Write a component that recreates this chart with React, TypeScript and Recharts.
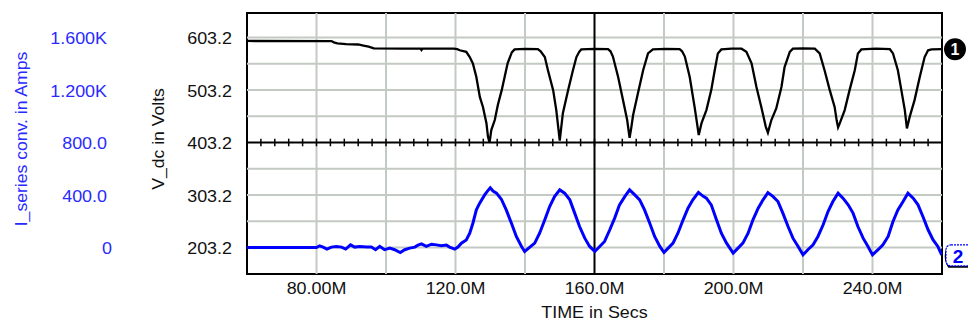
import React from 'react';
import { LineChart, Line, XAxis, YAxis, ReferenceLine, ReferenceArea, ReferenceDot } from 'recharts';

// V_dc trace (time in ms, volts)
const vTime = [
  60, 84.3, 85.0, 86.0, 88.5, 92.0, 93.5, 95.0, 96.5, 105, 110, 110.2, 110.5, 119.5,
  120.5, 121.2, 123.1, 124.1, 125.0, 126.0, 127.0, 127.9, 128.9, 129.35, 129.8,
  130.3, 131.3, 132.2, 133.3, 134.2, 135.0, 136.2, 137.0, 140, 143.7,
  144.5, 145.7, 146.6, 148.1, 149.0, 149.6, 150.0, 150.4, 150.9, 152.4, 153.8, 154.8, 155.6, 156.2, 160, 163.9,
  164.6, 165.3, 166.8, 168.2, 169.4, 170.1, 170.6, 171.1, 172.5, 174.0, 175.4, 176.8, 180.5, 184.5,
  185.2, 186.0, 187.4, 188.8, 189.5, 190.0, 190.8, 192.2, 193.6, 194.6, 195.5, 196.5, 199.5, 202.3,
  203.7, 205.2, 206.6, 208.0, 209.3, 209.9, 210.9, 212.3, 213.8, 214.7, 216.2, 217.1, 220, 223.4,
  224.8, 226.2, 227.7, 229.1, 229.7, 230.1, 230.6, 232.0, 233.4, 234.9, 235.8, 236.8, 241, 245.0,
  245.9, 247.3, 248.3, 249.3, 249.9, 250.7, 252.1, 253.6, 255.0, 256.0, 257.0, 260,
];
const vVolts = [
  596.7, 596.5, 594, 592, 590.5, 590, 588, 586, 582.5, 582, 582, 579.5, 582, 582,
  581, 579, 576, 566, 554, 528, 490, 471, 440, 414, 403,
  427, 446, 475, 503, 530, 554, 575, 580.5, 581.5, 581,
  577, 566, 541, 503, 465, 430, 407, 430, 459, 503, 541, 566, 576, 580.5, 581.5, 581,
  577, 567, 528, 484, 446, 412, 432, 455, 497, 541, 573, 580.5, 581.5, 581,
  577, 567, 528, 471, 440, 417.5, 440, 465, 503, 541, 573, 580.5, 582, 582,
  576, 554, 509, 471, 433, 422, 446, 468, 509, 547, 576, 582, 582.5, 582,
  573, 541, 503, 471, 445, 432, 440, 465, 503, 541, 573, 580.5, 582, 581,
  573, 541, 503, 465, 430, 452, 484, 528, 566, 579, 580.5, 581,
];

// I_series conv. trace (time in ms, amps)
const iTime = [
  60, 80.0, 80.9, 81.9, 83.0, 84.3, 85.7, 87.2, 88.4, 89.8, 91.0, 92.4, 94.4, 95.8, 97.0, 98.2,
  99.6, 101.1, 102.5, 104.1, 105.4, 106.8, 108.3, 109.2, 110.2, 111.6, 113.1, 114.5, 115.9, 117.4,
  118.3, 119.8, 120.7, 121.7, 123.1, 124.1, 125.0, 126.0, 127.0, 128.4, 129.2, 130.0, 130.8,
  131.8, 133.2, 134.6, 136.1, 137.5, 139.0, 139.9, 141.4, 142.8, 144.2, 145.7, 147.1, 148.5, 150.0,
  151.4, 152.9, 154.3, 155.7, 157.2, 158.6, 160.1, 161.5, 162.9, 164.4, 165.8, 167.2, 168.7, 170.1,
  171.6, 173.0, 174.4, 175.9, 177.3, 178.8, 180.0, 181.2, 182.6, 184.0, 185.5, 186.9, 188.3, 189.9,
  191.2, 192.2, 193.6, 195.1, 196.5, 198.0, 199.9, 201.3, 202.7, 204.2, 205.6, 207.1, 208.5, 209.9,
  211.4, 212.8, 214.2, 215.7, 217.1, 218.6, 220.0, 221.4, 222.9, 224.3, 225.8, 227.2, 228.6, 230.1,
  231.5, 233.0, 234.4, 235.8, 237.3, 238.7, 240.0, 241.6, 243.0, 244.5, 245.9, 247.3, 248.8, 250.2,
  251.7, 253.1, 254.5, 256.0, 257.4, 258.8, 259.9,
];
const iAmps = [
  0, 0, 13, 3, -12, 3, 8, 3, -12, 20, 3, 8, 3, 3, -17, 8,
  -17, -5, -17, -38, -17, -5, 3, 18, 28, 8, 25, 20, 13, 18,
  3, -12, 3, 33, 58, 109, 185, 287, 340, 401, 430, 455, 430,
  414, 368, 287, 185, 84, 8, -30, 3, 33, 109, 211, 312, 388, 439,
  414, 363, 262, 160, 71, 8, -30, 8, 46, 135, 224, 325, 388, 439,
  401, 363, 287, 185, 84, 8, -38, -5, 33, 109, 211, 300, 363, 420,
  392, 376, 325, 211, 109, 33, -43, -5, 33, 109, 211, 300, 363, 418,
  388, 350, 262, 160, 71, 8, -56, -17, 21, 84, 173, 274, 350, 414,
  376, 325, 262, 160, 71, 8, -56, -17, 21, 84, 198, 287, 350, 414,
  376, 325, 236, 135, 59, 8, -56,
];

const xTicks = [80, 120, 160, 200, 240];
const xTickLabels = ['80.00M', '120.0M', '160.0M', '200.0M', '240.0M'];
const vTicks = [203.2, 303.2, 403.2, 503.2, 603.2];
const iTicks = [0, 400, 800, 1200, 1600];
const iTickLabels = ['0', '400.0', '800.0', '1.200K', '1.600K'];
const gridTimes = [80, 100, 120, 140, 180, 200, 220, 240];
const gridVolts = [203.2, 253.2, 303.2, 353.2, 453.2, 503.2, 553.2, 603.2];
const midTicks = [
  64, 68, 72, 76, 80, 84, 88, 92, 96, 100, 104, 108, 112, 116, 120, 124, 128, 132, 136, 140,
  144, 148, 152, 156, 160, 164, 168, 172, 176, 180, 184, 188, 192, 196, 200, 204, 208, 212,
  216, 220, 224, 228, 232, 236, 240, 244, 248, 252, 256,
];

const vData = vTime.map((t, k) => ({ t, v: vVolts[k] }));
const iData = iTime.map((t, k) => ({ t, v: iAmps[k] }));

const FONT = '"Liberation Sans", Arial, sans-serif';
const BLUE = '#0000ff';
const BLUE_TEXT = '#2a2aff';
const GRID = '#c3cac3';
const V_DOMAIN = [152.6, 650];
const I_DOMAIN = [-202, 1787];

const VTick = (props: any) => {
  const { x, y, payload } = props;
  return (
    <text transform={`translate(${x},${y + 1}) scale(1.12,1)`} textAnchor="end" dy="0.36em"
      fontSize={16} fontFamily={FONT} fill="#111">
      {Number(payload.value).toFixed(1)}
    </text>
  );
};

const ITick = (props: any) => {
  const { x, y, payload } = props;
  const idx = iTicks.indexOf(payload.value);
  const shift = payload.value === 0 ? 5 : 0;
  return (
    <text transform={`translate(${x + shift},${y + 1}) scale(1.12,1)`} textAnchor="end" dy="0.36em"
      fontSize={16} fontFamily={FONT} fill={BLUE_TEXT}>
      {iTickLabels[idx]}
    </text>
  );
};

const XTick = (props: any) => {
  const { x, y, payload } = props;
  const idx = xTicks.indexOf(payload.value);
  return (
    <text transform={`translate(${x},${y + 14}) scale(1.12,1)`} textAnchor="middle" dy="0.36em"
      fontSize={16} fontFamily={FONT} fill="#111">
      {xTickLabels[idx]}
    </text>
  );
};

const sideLabel = (text: string, dx: number, color: string) => (props: any) => {
  const vb = props.viewBox;
  const cx = vb.x + dx;
  const cy = 139;
  return (
    <text transform={`translate(${cx},${cy}) rotate(-90) scale(1.1,1)`} textAnchor="middle" dy="0.36em"
      fontSize={16} fontFamily={FONT} fill={color}>
      {text}
    </text>
  );
};

const timeLabel = (props: any) => {
  const vb = props.viewBox;
  return (
    <text transform={`translate(${vb.x + vb.width / 2},${vb.y + 38}) scale(1.12,1)`} textAnchor="middle"
      dy="0.36em" fontSize={16} fontFamily={FONT} fill="#111">
      TIME in Secs
    </text>
  );
};

const MarkerOne = (props: any) => {
  const { cx, cy } = props;
  if (cx == null) return null;
  return (
    <g>
      <circle cx={cx + 13} cy={cy} r={11} fill="#000" />
      <text x={cx + 13} y={cy} dy="0.36em" textAnchor="middle" fontSize={16} fontWeight="bold"
        fontFamily={FONT} fill="#fff">1</text>
    </g>
  );
};

const MarkerTwo = (props: any) => {
  const { cx, cy } = props;
  if (cx == null) return null;
  return (
    <g>
      <path d={`M ${cx + 6} ${cy - 9} Q ${cx + 1} ${cy + 3} ${cx + 7} ${cy + 12} L ${cx + 26} ${cy + 12}`}
        stroke="#000" strokeWidth={2} fill="none" />
      <rect x={cx + 4} y={cy - 10} width={28} height={21} rx={5} fill="#fff" stroke={BLUE}
        strokeWidth={1.2} strokeDasharray="2 1" />
      <text x={cx + 16} y={cy + 1} dy="0.36em" textAnchor="middle" fontSize={19} fontWeight="bold"
        fontFamily={FONT} fill={BLUE}>2</text>
    </g>
  );
};

export default function App() {
  return (
    <div style={{ position: 'absolute', left: 0, top: 0, width: 968, height: 325, background: '#fff' }}>
      <LineChart width={968} height={325} margin={{ top: 13, right: 26, bottom: 1, left: 0 }}>
        <XAxis dataKey="t" type="number" domain={[60, 260]} allowDataOverflow ticks={xTicks}
          tick={<XTick />} tickSize={0} tickMargin={0} axisLine={false} tickLine={false} height={50}
          label={timeLabel} />
        <YAxis yAxisId="a" type="number" domain={V_DOMAIN} allowDataOverflow ticks={vTicks}
          tick={<VTick />} tickSize={0} tickMargin={15} axisLine={false} tickLine={false} width={107}
          label={sideLabel('V_dc in Volts', 18, '#111')} />
        <YAxis yAxisId="b" type="number" domain={I_DOMAIN} allowDataOverflow ticks={iTicks}
          tick={<ITick />} tickSize={0} tickMargin={33} axisLine={false} tickLine={false} width={140}
          label={sideLabel('I_series conv. in Amps', 21.5, BLUE_TEXT)} />

        {gridTimes.map((t) => (
          <ReferenceLine key={'gx' + t} x={t} yAxisId="a" stroke={GRID} strokeWidth={2} />
        ))}
        {gridVolts.map((v) => (
          <ReferenceLine key={'gy' + v} y={v} yAxisId="a" stroke={GRID} strokeWidth={2} />
        ))}
        <ReferenceLine x={160} yAxisId="a" stroke="#000" strokeWidth={2} />
        <ReferenceLine y={403.2} yAxisId="a" stroke="#000" strokeWidth={2} />
        {midTicks.map((t) => (
          <ReferenceLine key={'mt' + t} yAxisId="a" stroke="#000" strokeWidth={1.5}
            segment={[{ x: t, y: 396 }, { x: t, y: 410.5 }]} />
        ))}

        <Line yAxisId="b" data={iData} dataKey="v" type="linear" stroke={BLUE} strokeWidth={3}
          dot={false} isAnimationActive={false} />
        <Line yAxisId="a" data={vData} dataKey="v" type="linear" stroke="#000" strokeWidth={2.3}
          dot={false} isAnimationActive={false} />

        <ReferenceArea yAxisId="a" x1={60} x2={260} y1={V_DOMAIN[0]} y2={V_DOMAIN[1]} fill="none"
          fillOpacity={0} stroke="#000" strokeWidth={2} ifOverflow="visible" />
        <ReferenceDot yAxisId="a" x={260} y={581} r={1} ifOverflow="visible" shape={MarkerOne} />
        <ReferenceDot yAxisId="b" x={260} y={-56} r={1} ifOverflow="visible" shape={MarkerTwo} />
      </LineChart>
    </div>
  );
}
